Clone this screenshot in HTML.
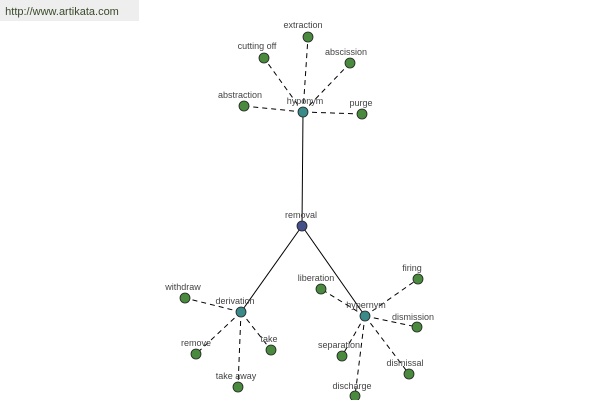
<!DOCTYPE html>
<html><head><style>
body{margin:0;background:#fff;}
text{font-family:"Liberation Sans",sans-serif;font-size:9px;fill:#444;text-anchor:middle;}
</style></head><body>
<svg width="600" height="400" xmlns="http://www.w3.org/2000/svg">
<rect x="0" y="0" width="139" height="21" fill="#eeeeee"/>
<text x="62" y="15" style="font-size:11px;fill:#3a4a2a">http://www.artikata.com</text>
<g stroke="#000" stroke-width="1">
<line x1="303" y1="112" x2="302" y2="226"/>
<line x1="302" y1="226" x2="241" y2="312"/>
<line x1="302" y1="226" x2="365" y2="316"/>
</g>
<g stroke="#000" stroke-width="1" stroke-dasharray="5,4">
<line x1="303" y1="112" x2="308" y2="37"/>
<line x1="303" y1="112" x2="264" y2="58"/>
<line x1="303" y1="112" x2="350" y2="63"/>
<line x1="303" y1="112" x2="244" y2="106"/>
<line x1="303" y1="112" x2="362" y2="114"/>
<line x1="241" y1="312" x2="185" y2="298"/>
<line x1="241" y1="312" x2="196" y2="354"/>
<line x1="241" y1="312" x2="238" y2="387"/>
<line x1="241" y1="312" x2="271" y2="350"/>
<line x1="365" y1="316" x2="321" y2="289"/>
<line x1="365" y1="316" x2="418" y2="279"/>
<line x1="365" y1="316" x2="417" y2="327"/>
<line x1="365" y1="316" x2="342" y2="356"/>
<line x1="365" y1="316" x2="409" y2="374"/>
<line x1="365" y1="316" x2="355" y2="396"/>
</g>
<g stroke="#222" stroke-width="0.8" fill="#4a8a3e">
<circle cx="308" cy="37" r="5"/><circle cx="264" cy="58" r="5"/><circle cx="350" cy="63" r="5"/>
<circle cx="244" cy="106" r="5"/><circle cx="362" cy="114" r="5"/>
<circle cx="185" cy="298" r="5"/><circle cx="196" cy="354" r="5"/><circle cx="238" cy="387" r="5"/><circle cx="271" cy="350" r="5"/>
<circle cx="321" cy="289" r="5"/><circle cx="418" cy="279" r="5"/><circle cx="417" cy="327" r="5"/>
<circle cx="342" cy="356" r="5"/><circle cx="409" cy="374" r="5"/><circle cx="355" cy="396" r="5"/>
</g>
<g stroke="#222" stroke-width="0.8" fill="#3a8a8a">
<circle cx="303" cy="112" r="5"/><circle cx="241" cy="312" r="5"/><circle cx="365" cy="316" r="5"/>
</g>
<circle cx="302" cy="226" r="5" fill="#44508a" stroke="#222" stroke-width="0.8"/>
<text x="303" y="28">extraction</text>
<text x="257" y="49">cutting off</text>
<text x="346" y="55">abscission</text>
<text x="240" y="98">abstraction</text>
<text x="305" y="104">hyponym</text>
<text x="361" y="106">purge</text>
<text x="301" y="218">removal</text>
<text x="183" y="290">withdraw</text>
<text x="235" y="304">derivation</text>
<text x="196" y="346">remove</text>
<text x="269" y="342">take</text>
<text x="236" y="379">take away</text>
<text x="316" y="281">liberation</text>
<text x="412" y="271">firing</text>
<text x="366" y="308">hypernym</text>
<text x="413" y="320">dismission</text>
<text x="339" y="348">separation</text>
<text x="405" y="366">dismissal</text>
<text x="352" y="389">discharge</text>
</svg>
</body></html>
